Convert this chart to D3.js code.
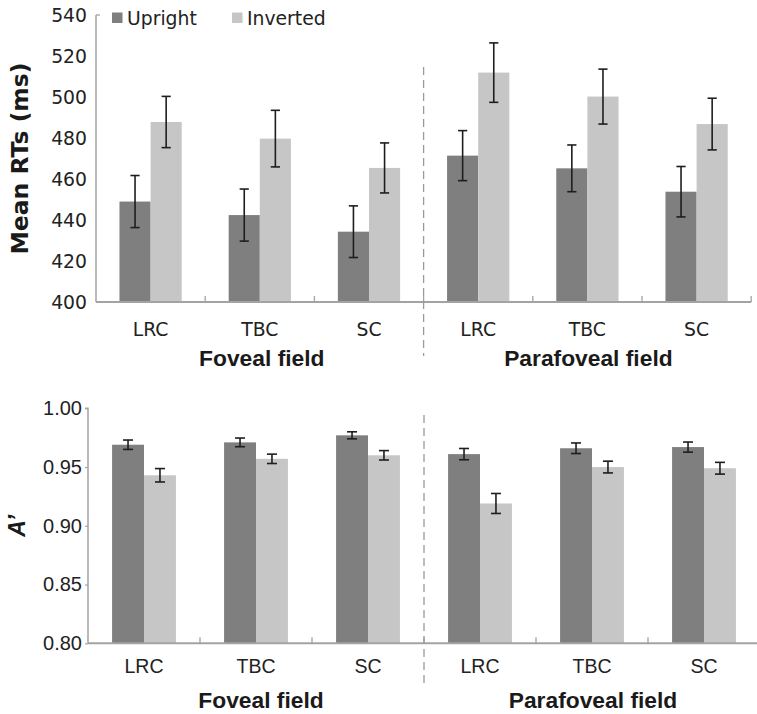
<!DOCTYPE html>
<html>
<head>
<meta charset="utf-8">
<script src="https://cdn.jsdelivr.net/npm/d3@7"></script>
<style>
  html, body { margin: 0; padding: 0; background: #fff; }
  svg { display: block; }
</style>
</head>
<body>
<script>
// ---- data ----
const categories = ["LRC", "TBC", "SC", "LRC", "TBC", "SC"];
const fields = ["Foveal field", "Parafoveal field"];
const series = ["Upright", "Inverted"];

const rtUpright     = [449.0, 442.4, 434.3, 471.4, 465.2, 453.8];
const rtUprightErr  = [12.7, 12.7, 12.6, 12.2, 11.4, 12.3];
const rtInverted    = [487.8, 479.7, 465.4, 511.9, 500.2, 486.8];
const rtInvertedErr = [12.5, 13.8, 12.2, 14.5, 13.4, 12.6];

const aUpright      = [0.969, 0.971, 0.977, 0.961, 0.966, 0.967];
const aUprightErr   = [0.0040, 0.0037, 0.0030, 0.0048, 0.0045, 0.0043];
const aInverted     = [0.943, 0.957, 0.960, 0.919, 0.950, 0.949];
const aInvertedErr  = [0.0057, 0.0040, 0.0040, 0.0085, 0.0050, 0.0050];

const rtTicks = [400, 420, 440, 460, 480, 500, 520, 540];
const aTicks  = [0.80, 0.85, 0.90, 0.95, 1.00];

const colors = { Upright: "#7f7f7f", Inverted: "#c5c6c5" };
const axisColor = "#a3a3a3";

const W = 757, H = 714;
const svg = d3.select("body").append("svg").attr("width", W).attr("height", H);

function panel(opts) {
  const g = svg.append("g");
  const { x0, x1, yTop, yBot, domain, ticks, fmt, up, upErr, inv, invErr,
          tickFont, tickSize, catFont, catSize, catBaseline, fieldBaseline, fieldShift,
          yTickLen, dashTop, dashBot, tickLabelGap, capHalf } = opts;

  const x = d3.scaleBand().domain(d3.range(categories.length)).range([x0, x1]).padding(0);
  const xi = d3.scaleBand().domain(series).range([0, x.bandwidth()]).paddingInner(0).paddingOuter(0.754);
  const y = d3.scaleLinear().domain(domain).range([yBot, yTop]);

  // bars
  const data = [];
  categories.forEach((c, i) => {
    data.push({ i, s: "Upright", v: up[i], e: upErr[i] });
    data.push({ i, s: "Inverted", v: inv[i], e: invErr[i] });
  });
  g.selectAll("rect.bar").data(data).join("rect")
    .attr("x", d => x(d.i) + xi(d.s))
    .attr("width", xi.bandwidth())
    .attr("y", d => y(d.v))
    .attr("height", d => y(domain[0]) - y(d.v))
    .attr("fill", d => colors[d.s]);

  // error bars
  const eb = g.selectAll("g.eb").data(data).join("g").attr("stroke", "#1e1e1e").attr("stroke-width", 1.6);
  eb.append("line")
    .attr("x1", d => x(d.i) + xi(d.s) + xi.bandwidth() / 2)
    .attr("x2", d => x(d.i) + xi(d.s) + xi.bandwidth() / 2)
    .attr("y1", d => y(d.v + d.e)).attr("y2", d => y(d.v - d.e));
  [1, -1].forEach(sign => {
    eb.append("line")
      .attr("x1", d => x(d.i) + xi(d.s) + xi.bandwidth() / 2 - capHalf)
      .attr("x2", d => x(d.i) + xi(d.s) + xi.bandwidth() / 2 + capHalf)
      .attr("y1", d => y(d.v + sign * d.e)).attr("y2", d => y(d.v + sign * d.e));
  });

  // y axis
  const ya = g.append("g").attr("transform", `translate(${x0},0)`)
    .call(d3.axisLeft(y).tickValues(ticks).tickFormat(fmt).tickSize(yTickLen).tickPadding(tickLabelGap));
  ya.select(".domain").attr("stroke", axisColor).attr("stroke-width", 1.5)
    .attr("d", `M${-yTickLen},${yTop}H0V${yBot}`);
  ya.selectAll(".tick line").attr("stroke", axisColor).attr("stroke-width", 1.2);
  ya.selectAll(".tick text").attr("font-family", tickFont).attr("font-size", tickSize).attr("fill", "#222");

  // x axis line and boundary ticks
  g.append("line").attr("x1", x0).attr("x2", Math.min(x1, W)).attr("y1", yBot).attr("y2", yBot)
    .attr("stroke", axisColor).attr("stroke-width", 2);
  g.selectAll("line.xt").data(d3.range(1, categories.length + 1)).join("line")
    .attr("x1", i => x0 + i * x.step()).attr("x2", i => x0 + i * x.step())
    .attr("y1", yBot).attr("y2", yBot - 6)
    .attr("stroke", axisColor).attr("stroke-width", 1.3);

  // category labels
  g.selectAll("text.cat").data(categories).join("text")
    .attr("x", (c, i) => x(i) + x.bandwidth() / 2)
    .attr("y", catBaseline)
    .attr("text-anchor", "middle")
    .attr("font-family", catFont).attr("font-size", catSize).attr("fill", "#222")
    .text(c => c);

  // field labels
  const half = categories.length / 2;
  g.selectAll("text.field").data(fields).join("text")
    .attr("x", (f, k) => x0 + (k * half + half / 2) * x.step() + fieldShift[k])
    .attr("y", fieldBaseline)
    .attr("text-anchor", "middle")
    .attr("font-family", "'Liberation Sans', Arial, sans-serif")
    .attr("font-weight", "bold").attr("font-size", 22.8).attr("fill", "#1a1a1a")
    .text(f => f);

  // dashed divider
  const xd = x0 + half * x.step();
  g.append("line").attr("x1", xd).attr("x2", xd).attr("y1", dashTop).attr("y2", dashBot)
    .attr("stroke", "#9a9a9a").attr("stroke-width", 1.3).attr("stroke-dasharray", "8,5");
  return { x, y, g };
}

// ---- top panel: RTs ----
const rtPanel = panel({
  x0: 96, x1: 751.2, yTop: 15, yBot: 302, domain: [400, 540], ticks: rtTicks,
  fmt: d3.format("d"), up: rtUpright, upErr: rtUprightErr, inv: rtInverted, invErr: rtInvertedErr,
  tickFont: "'DejaVu Sans', Verdana, sans-serif", tickSize: 18.8,
  catFont: "'DejaVu Sans', Verdana, sans-serif", catSize: 18.8,
  catBaseline: 336, fieldBaseline: 366, fieldShift: [2, 1], yTickLen: 0, dashTop: 67, dashBot: 356,
  tickLabelGap: 9, capHalf: 4.6
});
// small top cap on RT axis
rtPanel.g.append("line").attr("x1", 96).attr("x2", 100).attr("y1", 15).attr("y2", 15)
  .attr("stroke", axisColor).attr("stroke-width", 1.3);

svg.append("text")
  .attr("transform", `translate(28,${(15 + 302) / 2}) rotate(-90)`)
  .attr("text-anchor", "middle")
  .attr("font-family", "'DejaVu Sans', Verdana, sans-serif")
  .attr("font-weight", "bold").attr("font-size", 23.5).attr("fill", "#1a1a1a")
  .text("Mean RTs (ms)");

// legend
const leg = svg.append("g");
const legX = [112, 232];
series.forEach((s, k) => {
  leg.append("rect").attr("x", legX[k]).attr("y", 12.5).attr("width", 10.5).attr("height", 10.5).attr("fill", colors[s]);
  leg.append("text").attr("x", legX[k] + 15).attr("y", 24.5)
    .attr("font-family", "'DejaVu Sans', Verdana, sans-serif").attr("font-size", 18.8).attr("fill", "#222")
    .text(s);
});

// ---- bottom panel: A' ----
panel({
  x0: 88, x1: 760, yTop: 408.3, yBot: 643.3, domain: [0.80, 1.00], ticks: aTicks,
  fmt: d3.format(".2f"), up: aUpright, upErr: aUprightErr, inv: aInverted, invErr: aInvertedErr,
  tickFont: "'Liberation Sans', Arial, sans-serif", tickSize: 20,
  catFont: "'Liberation Sans', Arial, sans-serif", catSize: 19.5,
  catBaseline: 673, fieldBaseline: 708, fieldShift: [5, 1], yTickLen: 3, dashTop: 415, dashBot: 688,
  tickLabelGap: 3, capHalf: 5
});

svg.append("text")
  .attr("transform", `translate(25,${(408.3 + 643.3) / 2}) rotate(-90)`)
  .attr("text-anchor", "middle")
  .attr("font-family", "'Liberation Sans', Arial, sans-serif")
  .attr("font-weight", "bold").attr("font-style", "italic").attr("font-size", 23).attr("fill", "#1a1a1a")
  .text("A\u2019");
</script>
</body>
</html>
